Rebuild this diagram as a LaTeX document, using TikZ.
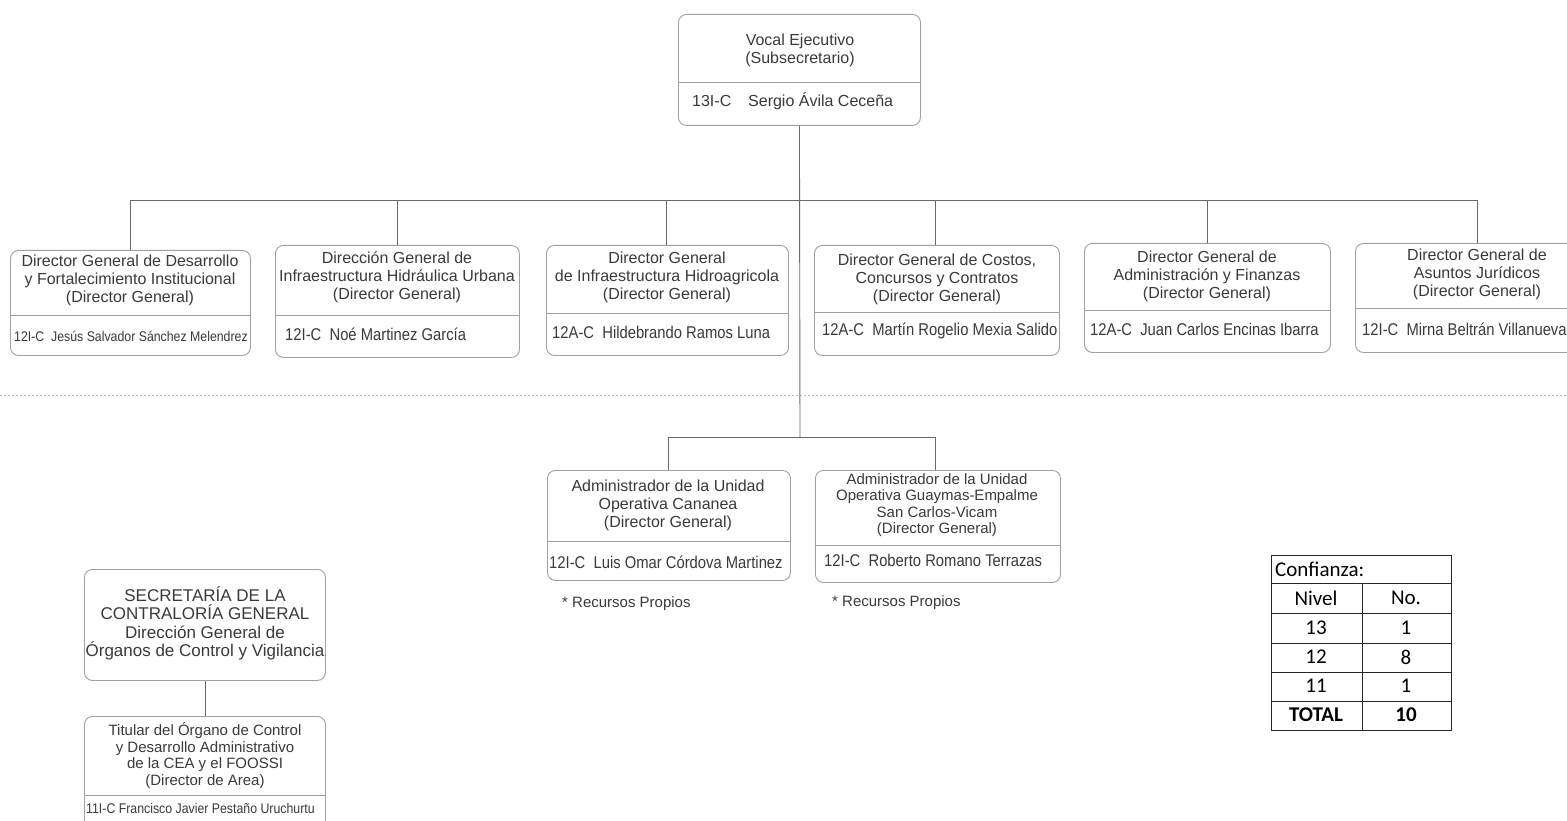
\documentclass[tikz,border=0pt]{standalone}
\usepackage{fontspec}
\setmainfont{Liberation Sans}
\newfontfamily\narrowf[FakeStretch=0.87]{Liberation Sans}
\newfontfamily\narrowg[FakeStretch=0.88]{Liberation Sans}
\newfontfamily\calib{Carlito}
\definecolor{boxgray}{HTML}{A0A0A0}
\definecolor{linegray}{HTML}{6A6A6A}
\definecolor{txtgray}{HTML}{3A3A3A}
\begin{document}
\begin{tikzpicture}[x=1pt,y=-1pt,
  orgbox/.style={draw=boxgray, line width=0.9pt, rounded corners=8pt, anchor=north west, inner sep=0pt},
  divline/.style={draw=boxgray, line width=0.8pt},
  conn/.style={draw=linegray, line width=0.9pt},
  ttl/.style={align=center, inner sep=0pt, text=txtgray, font=\fontsize{16}{18}\selectfont},
  ttlsmall/.style={align=center, inner sep=0pt, text=txtgray, font=\fontsize{15}{16.5}\selectfont},
  ttlbig/.style={align=center, inner sep=0pt, text=txtgray, font=\fontsize{17}{18.5}\selectfont},
  nm/.style={anchor=west, inner sep=0pt, text=txtgray, font=\narrowf\fontsize{17}{19}\selectfont},
  nmsmall/.style={anchor=west, inner sep=0pt, text=txtgray, font=\narrowg\fontsize{14}{16}\selectfont},
  note/.style={anchor=west, inner sep=0pt, text=txtgray, font=\fontsize{15}{17}\selectfont},
  tbl/.style={inner sep=0pt, font=\calib\fontsize{21}{24}\selectfont},
  tblline/.style={draw=black!85, line width=1pt}
]
\useasboundingbox (0,0) rectangle (1567,821);
\fill[white] (0,0) rectangle (1567,821);

% ---------- top box
\node[orgbox, minimum width=242pt, minimum height=111pt] (top) at (678,14) {};
\draw[divline] (678,82) -- (920,82);
\node[ttl] (topt) at (800,50) {Vocal Ejecutivo\\(Subsecretario)};
\node[anchor=west, inner sep=0pt, text=txtgray, font=\fontsize{16}{18}\selectfont] (topc) at (692,101) {13I-C};
\node[anchor=west, inner sep=0pt, text=txtgray, font=\fontsize{16}{18}\selectfont] (topn) at (748,101) {Sergio Ávila Ceceña};

% ---------- six directors
\node[orgbox, minimum width=240pt, minimum height=105pt] (d1) at (10,250) {};
\node[orgbox, minimum width=244pt, minimum height=112pt] (d2) at (275,245) {};
\node[orgbox, minimum width=242pt, minimum height=110pt] (d3) at (546,245) {};
\node[orgbox, minimum width=245pt, minimum height=110pt] (d4) at (814,245) {};
\node[orgbox, minimum width=246pt, minimum height=109pt] (d5) at (1084,243) {};
\node[orgbox, minimum width=244pt, minimum height=109pt] (d6) at (1355,243) {};

\draw[divline] (10,315) -- (250,315);
\draw[divline] (275,315) -- (519,315);
\draw[divline] (546,313) -- (788,313);
\draw[divline] (814,312) -- (1059,312);
\draw[divline] (1084,310) -- (1330,310);
\draw[divline] (1355,308) -- (1599,308);

\node[ttl] (d1t) at (130,280) {Director General de Desarrollo\\y Fortalecimiento Institucional\\(Director General)};
\node[ttl] (d2t) at (397,277) {Dirección General de\\Infraestructura Hidráulica Urbana\\(Director General)};
\node[ttl] (d3t) at (667,277) {Director General\\de Infraestructura Hidroagricola\\(Director General)};
\node[ttl] (d4t) at (937,279) {Director General de Costos,\\Concursos y Contratos\\(Director General)};
\node[ttl] (d5t) at (1207,276) {Director General de\\Administración y Finanzas\\(Director General)};
\node[ttl] (d6t) at (1477,274) {Director General de\\Asuntos Jurídicos\\(Director General)};

\node[nmsmall] (d1n) at (14,336) {12I-C~ Jesús Salvador Sánchez Melendrez};
\node[nm] (d2n) at (285,334) {12I-C~ Noé Martinez García};
\node[nm] (d3n) at (552,332) {12A-C~ Hildebrando Ramos Luna};
\node[nm] (d4n) at (822,331) {12A-C~ Martín Rogelio Mexia Salido};
\node[nm] (d5n) at (1090,329) {12A-C~ Juan Carlos Encinas Ibarra};
\node[nm] (d6n) at (1362,329) {12I-C~ Mirna Beltrán Villanueva};

% ---------- dotted separator
\draw[draw=black!25, line width=0.8pt, dash pattern=on 2pt off 2pt] (0,395) -- (1567,395);

% ---------- lower administrators
\node[orgbox, minimum width=243pt, minimum height=110pt] (a1) at (547,470) {};
\node[orgbox, minimum width=245pt, minimum height=112pt] (a2) at (815,470) {};
\draw[divline] (547,541) -- (790,541);
\draw[divline] (815,545) -- (1060,545);
\node[ttl] (a1t) at (668,505) {Administrador de la Unidad\\Operativa Cananea\\(Director General)};
\node[ttlsmall] (a2t) at (937,505) {Administrador de la Unidad\\Operativa Guaymas-Empalme\\San Carlos-Vicam\\(Director General)};
\node[nm] (a1n) at (549,562) {12I-C~ Luis Omar Córdova Martinez};
\node[nm] (a2n) at (824,560) {12I-C~ Roberto Romano Terrazas};
\node[note] (a1r) at (562,604) {* Recursos Propios};
\node[note] (a2r) at (832,603) {* Recursos Propios};

% ---------- connectors
\coordinate (bl) at (130,200);
\coordinate (br) at (1477,200);
\coordinate (c1) at (130,200);
\coordinate (c2) at (397,200);
\coordinate (c3) at (666,200);
\coordinate (c4) at (935,200);
\coordinate (c5) at (1207,200);
\coordinate (c6) at (1477,200);
\coordinate (trunk) at (800,437);
\coordinate (la) at (668,437);
\coordinate (lb) at (935,437);
\draw[conn] (top.south) -- (trunk);
\draw[conn] (bl) -- (br);
\foreach \i in {1,...,6} {\draw[conn] (c\i) -- (c\i |- d\i.north);}
\draw[conn] (la) -- (lb);
\draw[conn] (la) -- (la |- a1.north);
\draw[conn] (lb) -- (lb |- a2.north);

% ---------- control boxes
\node[orgbox, minimum width=241pt, minimum height=111pt] (sc) at (84,569) {};
\node[ttlbig] (sct) at (205,623.5) {SECRETARÍA DE LA\\CONTRALORÍA GENERAL\\Dirección General de\\Órganos de Control y Vigilancia};
\node[orgbox, minimum width=241pt, minimum height=115pt] (ti) at (84,716) {};
\draw[divline] (84,795) -- (325,795);
\node[ttlsmall] (tit) at (205,755.5) {Titular del Órgano de Control\\y Desarrollo Administrativo\\de la CEA y el FOOSSI\\(Director de Area)};
\node[nmsmall] (tin) at (86,808) {11I-C Francisco Javier Pestaño Uruchurtu};
\draw[conn] (sc.south) -- (ti.north);

% ---------- table
\draw[tblline] (1271,555) rectangle (1451,730);
\foreach \yy in {583,613,643,672,701} {\draw[tblline] (1271,\yy) -- (1451,\yy);}
\draw[tblline] (1362,583) -- (1362,730);
\node[tbl, anchor=west] (tc) at (1275,569) {Confianza:};
\node[tbl] (th1) at (1316,598) {Nivel};
\node[tbl] (th2) at (1406,598) {No.};
\node[tbl] (r1a) at (1316,628) {13};
\node[tbl] (r1b) at (1406,628) {1};
\node[tbl] (r2a) at (1316,657) {12};
\node[tbl] (r2b) at (1406,657) {8};
\node[tbl] (r3a) at (1316,686) {11};
\node[tbl] (r3b) at (1406,686) {1};
\node[tbl, font=\calib\bfseries\fontsize{21}{24}\selectfont] (r4a) at (1316,715) {TOTAL};
\node[tbl, font=\calib\bfseries\fontsize{21}{24}\selectfont] (r4b) at (1406,715) {10};
\end{tikzpicture}
\end{document}
